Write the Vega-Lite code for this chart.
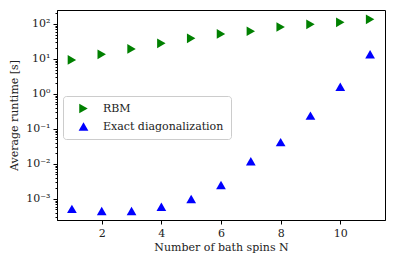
{
  "$schema": "https://vega.github.io/schema/vega-lite/v6.json",
  "width": 328,
  "height": 210,
  "autosize": {"type": "none"},
  "padding": {"left": 57, "top": 10, "right": 10, "bottom": 33},
  "background": "white",
  "config": {
    "view": {"stroke": "black", "strokeWidth": 1},
    "font": "DejaVu Serif",
    "axis": {"labelFont": "DejaVu Serif", "titleFont": "DejaVu Serif", "labelFontSize": 11, "titleFontSize": 11, "titleFontWeight": "normal", "labelColor": "#222", "titleColor": "#222", "domainColor": "black", "tickColor": "black", "grid": false}
  },
  "data": {"values": [
    {"N": 1, "runtime": 9.4, "method": "RBM"},
    {"N": 2, "runtime": 13.6, "method": "RBM"},
    {"N": 3, "runtime": 19.3, "method": "RBM"},
    {"N": 4, "runtime": 28, "method": "RBM"},
    {"N": 5, "runtime": 39, "method": "RBM"},
    {"N": 6, "runtime": 52, "method": "RBM"},
    {"N": 7, "runtime": 62, "method": "RBM"},
    {"N": 8, "runtime": 82, "method": "RBM"},
    {"N": 9, "runtime": 98, "method": "RBM"},
    {"N": 10, "runtime": 112, "method": "RBM"},
    {"N": 11, "runtime": 136, "method": "RBM"},
    {"N": 1, "runtime": 0.00052, "method": "Exact diagonalization"},
    {"N": 2, "runtime": 0.00045, "method": "Exact diagonalization"},
    {"N": 3, "runtime": 0.00045, "method": "Exact diagonalization"},
    {"N": 4, "runtime": 0.0006, "method": "Exact diagonalization"},
    {"N": 5, "runtime": 0.001, "method": "Exact diagonalization"},
    {"N": 6, "runtime": 0.0025, "method": "Exact diagonalization"},
    {"N": 7, "runtime": 0.012, "method": "Exact diagonalization"},
    {"N": 8, "runtime": 0.042, "method": "Exact diagonalization"},
    {"N": 9, "runtime": 0.24, "method": "Exact diagonalization"},
    {"N": 10, "runtime": 1.6, "method": "Exact diagonalization"},
    {"N": 11, "runtime": 13.6, "method": "Exact diagonalization"}
  ]},
  "layer": [
    {
      "mark": {"type": "point", "filled": true, "opacity": 1, "size": 95},
      "encoding": {
        "x": {"field": "N", "type": "quantitative", "scale": {"domain": [0.5, 11.5], "nice": false, "zero": false},
          "axis": {"values": [2, 4, 6, 8, 10], "title": "Number of bath spins N", "tickSize": 4, "labelPadding": 3, "titlePadding": 3}},
        "y": {"field": "runtime", "type": "quantitative", "scale": {"type": "log", "domain": [0.00025, 251], "nice": false},
          "axis": {"values": [0.001, 0.01, 0.1, 1, 10, 100], "title": "Average runtime [s]", "tickSize": 4, "labelPadding": 3, "titlePadding": 6,
            "labelExpr": "datum.value >= 100 ? '10²' : datum.value >= 10 ? '10¹' : datum.value >= 1 ? '10⁰' : datum.value >= 0.1 ? '10⁻¹' : datum.value >= 0.01 ? '10⁻²' : '10⁻³'"}},
        "shape": {"field": "method", "type": "nominal", "scale": {"domain": ["RBM", "Exact diagonalization"], "range": ["triangle-right", "triangle-up"]},
          "legend": {"title": null, "orient": "none", "legendX": 6, "legendY": 86, "labelFontSize": 11, "labelFont": "DejaVu Serif", "labelColor": "#222", "symbolSize": 95, "padding": 7, "rowPadding": 6, "symbolOffset": 8, "labelOffset": 14, "strokeColor": "#ccc", "fillColor": "white", "cornerRadius": 3, "symbolStrokeWidth": 0}},
        "color": {"field": "method", "type": "nominal", "scale": {"domain": ["RBM", "Exact diagonalization"], "range": ["#008000", "#0000ff"]}}
      }
    },
    {
      "mark": {"type": "point", "opacity": 0},
      "encoding": {
        "y": {"field": "runtime", "type": "quantitative", "scale": {"type": "log"},
          "axis": {"orient": "left", "values": [0.0003,0.0004,0.0005,0.0006,0.0007,0.0008,0.0009,0.002,0.003,0.004,0.005,0.006,0.007,0.008,0.009,0.02,0.03,0.04,0.05,0.06,0.07,0.08,0.09,0.2,0.3,0.4,0.5,0.6,0.7,0.8,0.9,2,3,4,5,6,7,8,9,20,30,40,50,60,70,80,90,200], "labels": false, "title": null, "tickSize": 2, "domain": false}}
      }
    }
  ],
  "resolve": {"axis": {"y": "independent"}}
}
